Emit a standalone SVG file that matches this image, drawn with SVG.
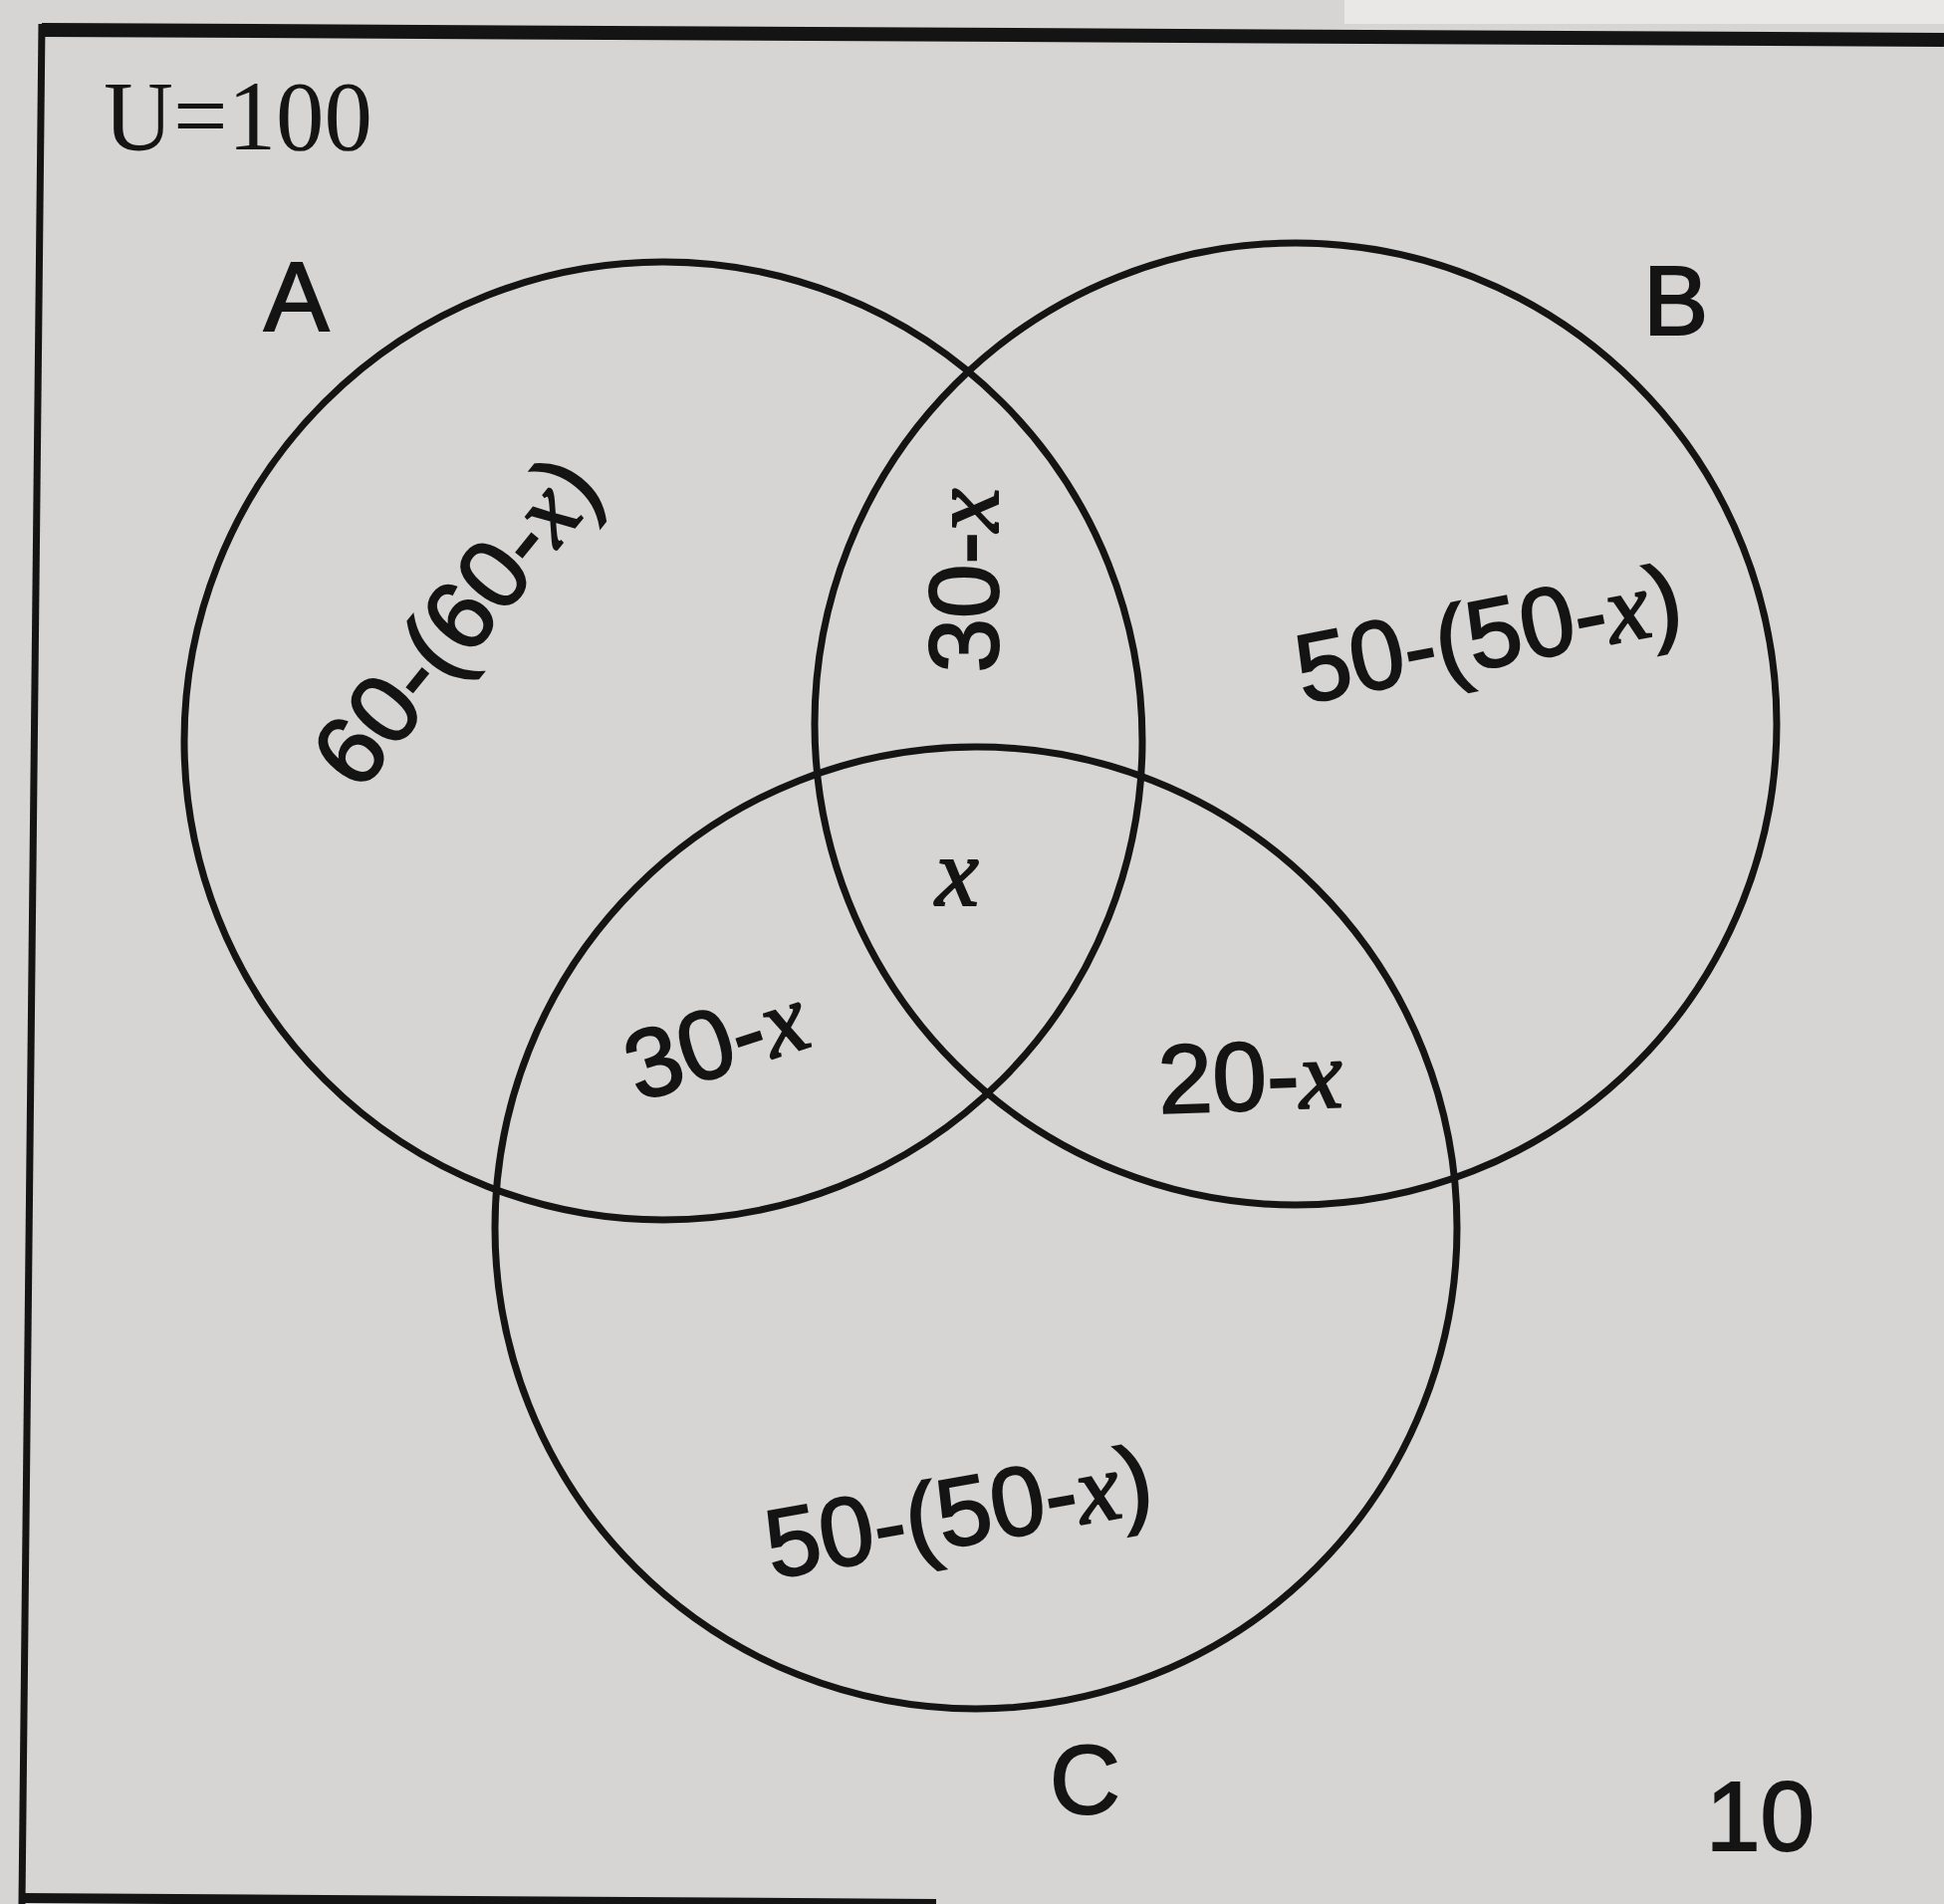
<svg xmlns="http://www.w3.org/2000/svg" width="1952" height="1912" viewBox="0 0 1952 1912">
  <style>
    .set { fill: none; stroke: #141414; stroke-width: 7; }
    .lbl { font-family: "Liberation Sans", Arial, sans-serif; font-size: 98px; fill: #141414; stroke: #141414; stroke-width: 2; }
    .var { font-family: "Liberation Serif", "Times New Roman", serif; font-style: italic; }
    .serif { font-family: "Liberation Serif", "Times New Roman", serif; font-size: 100px; fill: #141414; }
  </style>
  <rect x="0" y="0" width="1952" height="1912" fill="#d7d5d4"/>
  <rect x="1350" y="0" width="602" height="24" fill="#e9e8e7"/>

  <g id="universe">
    <path d="M42 30 L1952 40" stroke="#141414" stroke-width="14" fill="none"/>
    <path d="M42 24 L22 1912" stroke="#141414" stroke-width="7" fill="none"/>
    <path d="M20 1906 L940 1912" stroke="#141414" stroke-width="10" fill="none"/>
    <text class="serif" x="104" y="150" textLength="270" lengthAdjust="spacingAndGlyphs">U=100</text>
    <text class="lbl" x="1713" y="1858">10</text>
  </g>

  <g id="set-A">
    <circle class="set" cx="666" cy="744" r="481"/>
    <text class="lbl" x="265" y="332">A</text>
  </g>
  <g id="set-B">
    <circle class="set" cx="1301" cy="727" r="483"/>
    <text class="lbl" x="1650" y="336">B</text>
  </g>
  <g id="set-C">
    <circle class="set" cx="980" cy="1233" r="483"/>
    <text class="lbl" x="1054" y="1821">C</text>
  </g>

  <g id="regions">
    <text class="lbl" text-anchor="middle" transform="translate(456,622) rotate(-51)" x="0" y="36">60-(60-<tspan class="var">x</tspan>)</text>
    <text class="lbl" text-anchor="middle" transform="translate(966,583) rotate(-90)" x="0" y="36">30-<tspan class="var">x</tspan></text>
    <text class="lbl" text-anchor="middle" transform="translate(1494,634) rotate(-11)" x="0" y="36">50-(50-<tspan class="var">x</tspan>)</text>
    <text class="lbl" text-anchor="middle" transform="translate(718,1044) rotate(-18)" x="0" y="36">30-<tspan class="var">x</tspan></text>
    <text class="lbl" transform="rotate(-2 1164 1118)" x="1164" y="1118">20-<tspan class="var">x</tspan></text>
    <text class="lbl var" text-anchor="middle" x="961" y="909" font-size="90">x</text>
    <text class="lbl" text-anchor="middle" transform="translate(962,1516) rotate(-10)" x="0" y="36">50-(50-<tspan class="var">x</tspan>)</text>
  </g>

  <g id="connectors"/>
</svg>
